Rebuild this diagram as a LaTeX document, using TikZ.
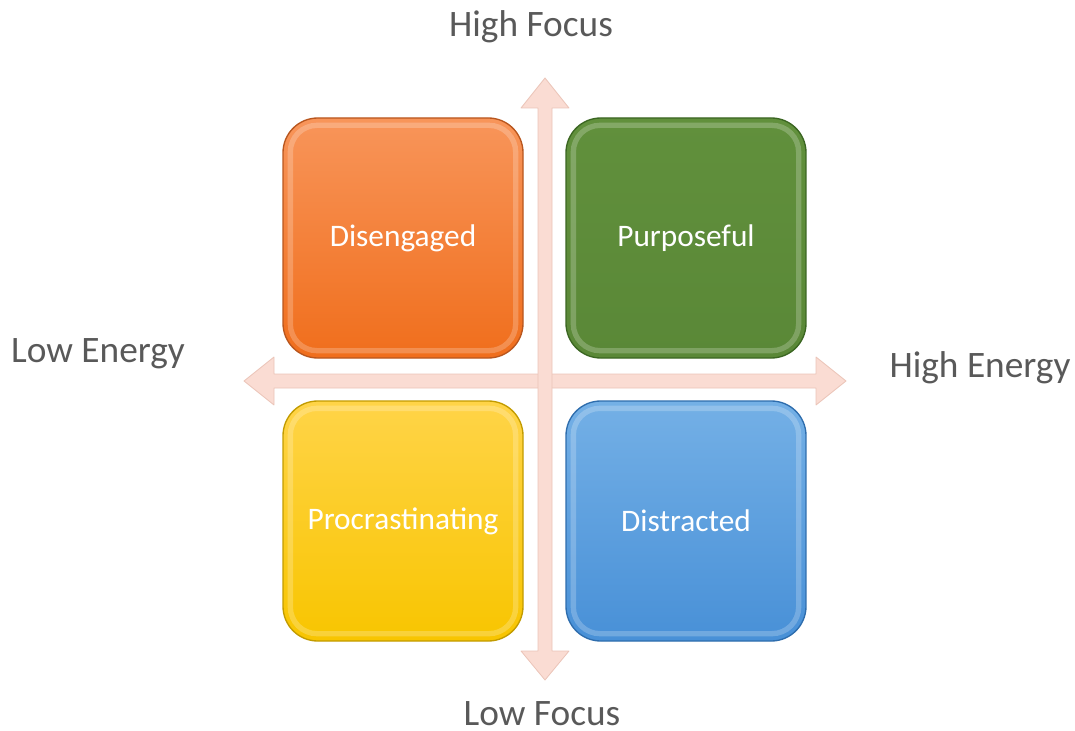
\documentclass[tikz,border=0pt]{standalone}
\usepackage{fontspec}
\setmainfont{Carlito}
\definecolor{axisfill}{HTML}{FADCD3}
\definecolor{axisline}{HTML}{EBC4B8}
\definecolor{labelgray}{HTML}{595959}
\definecolor{orangetop}{HTML}{F8955A}
\definecolor{orangebot}{HTML}{F06E1C}
\definecolor{orangeedge}{HTML}{B8561E}
\definecolor{greentop}{HTML}{61903C}
\definecolor{greenbot}{HTML}{5A8837}
\definecolor{greenedge}{HTML}{3B6622}
\definecolor{yellowtop}{HTML}{FFD448}
\definecolor{yellowbot}{HTML}{F8C500}
\definecolor{yellowedge}{HTML}{C29B00}
\definecolor{bluetop}{HTML}{74B0E6}
\definecolor{bluebot}{HTML}{4890D7}
\definecolor{blueedge}{HTML}{2E6DAD}
\tikzset{
  quadrant/.style n args={3}{draw=#3,line width=1pt,top color=#1,bottom color=#2,
    rounded corners=26pt,minimum width=180pt,minimum height=180pt,
    text=white,font=\fontsize{23.5}{28}\selectfont},
  axislabel/.style={text=labelgray,inner sep=1pt,font=\fontsize{28}{32}\selectfont},
  axisarrow/.style={fill=axisfill,draw=axisline,line width=0.6pt,line join=round}
}
\begin{document}
\begin{tikzpicture}[x=0.75pt,y=-0.75pt]
  \useasboundingbox (0,0) rectangle (1075,731);
  % axes
  \draw[axisarrow] (244,381)--(274,357)--(274,374)--(816,374)--(816,357)--(846,381)
    --(816,405)--(816,388)--(274,388)--(274,405)--cycle;
  \draw[axisarrow] (545,78)--(569,108)--(552,108)--(552,651)--(569,651)--(545,680)
    --(521,651)--(538,651)--(538,108)--(521,108)--cycle;
  % quadrants
  \node[quadrant={orangetop}{orangebot}{orangeedge}] (diseng) at (403,238) {Disengaged};
  \node[quadrant={greentop}{greenbot}{greenedge}] (purpose) at (686,238) {Purposeful};
  \node[quadrant={yellowtop}{yellowbot}{yellowedge}] (procrast) at (403,521) {Procrastinating};
  \node[quadrant={bluetop}{bluebot}{blueedge}] (distract) at (686,521) {Distracted};
  \foreach \q in {diseng,purpose,procrast,distract}
    \draw[white,opacity=0.22,line width=4pt,rounded corners=20pt]
      ([shift={(6pt,-6pt)}]\q.north west) rectangle ([shift={(-6pt,6pt)}]\q.south east);
  % labels
  \node[axislabel] (highfocus) at (531,27) {High Focus};
  \node[axislabel] (lowfocus) at (542,714) {Low Focus};
  \node[axislabel] (lowenergy) at (98,354) {Low Energy};
  \node[axislabel] (highenergy) at (980,368) {High Energy};
\end{tikzpicture}
\end{document}
